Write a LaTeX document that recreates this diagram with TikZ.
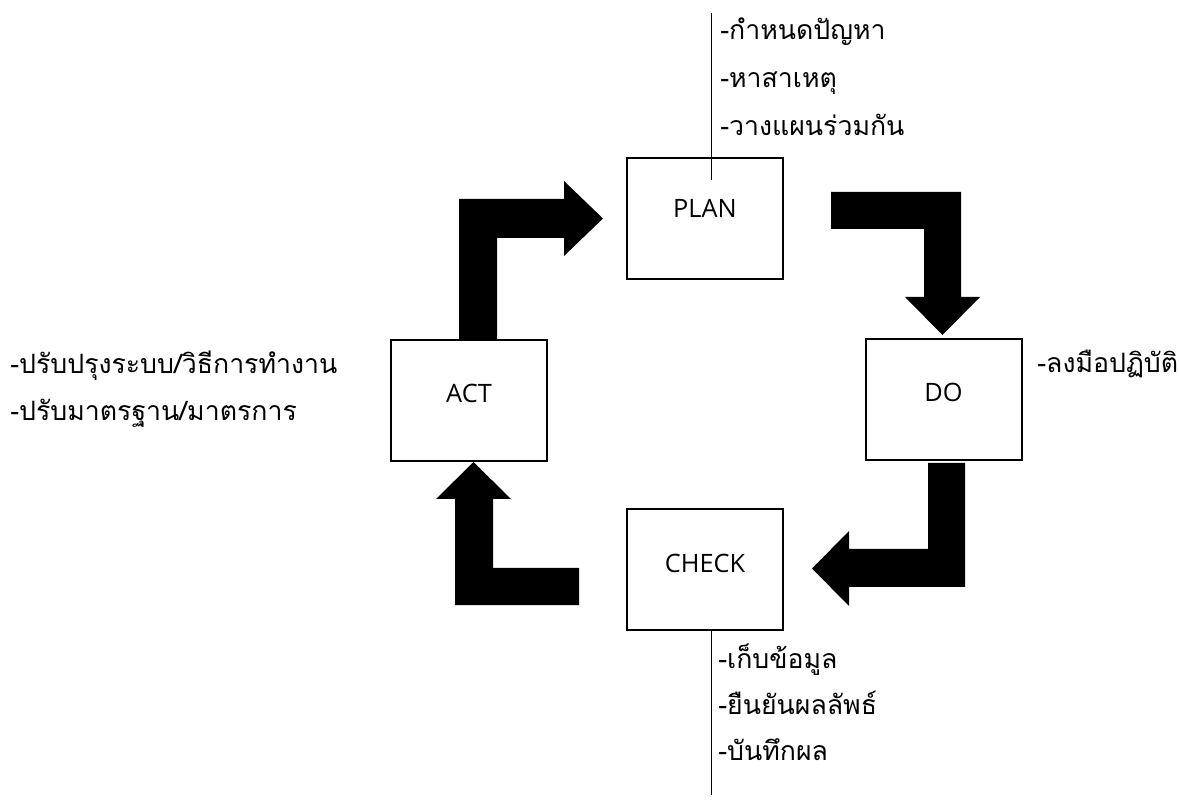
\documentclass[tikz,border=0pt]{standalone}
\usepackage{fontspec}
\newfontfamily\thaifont[Script=Thai]{Loma}
\newfontfamily\latfont{Open Sans}
\begin{document}
\begin{tikzpicture}[x=0.75pt,y=-0.75pt,
  box/.style={draw,line width=1.5pt,minimum width=117pt,minimum height=90.75pt,inner sep=0pt},
  boxlabel/.style={anchor=base,inner sep=0pt,font=\latfont\fontsize{19}{22}\selectfont},
  note/.style={anchor=base west,inner sep=0pt,font=\thaifont\fontsize{20}{24}\selectfont},
  blockarrow/.style={fill=black,draw=none},
  thinline/.style={line width=0.75pt}]
\useasboundingbox (0,0) rectangle (1179,805);
% boxes
\node[box] (plan) at (705,219) {};
\node[box] (do) at (943.5,399.5) {};
\node[box] (check) at (705,569.5) {};
\node[box] (act) at (469,400.5) {};
\node[boxlabel] (planl) at (705,218) {PLAN};
\node[boxlabel] (dol) at (943.5,402) {DO};
\node[boxlabel] (checkl) at (705,572) {CHECK};
\node[boxlabel] (actl) at (469,403) {ACT};
% block arrows
\fill[blockarrow] (459,340) -- (459,199) -- (564,199) -- (564,181) -- (603,218.5) -- (564,256) -- (564,238) -- (497,238) -- (497,340) -- cycle;
\fill[blockarrow] (831,192) -- (961,192) -- (961,297) -- (980,297) -- (942.5,335) -- (905,297) -- (924,297) -- (924,229) -- (831,229) -- cycle;
\fill[blockarrow] (928,463) -- (965,463) -- (965,587) -- (849,587) -- (849,606) -- (812,568.5) -- (849,531) -- (849,549) -- (928,549) -- cycle;
\fill[blockarrow] (579,568) -- (579,605) -- (455,605) -- (455,499) -- (436,499) -- (473.5,462) -- (511,499) -- (493,499) -- (493,568) -- cycle;
% thin lines
\coordinate (ptop) at (711,13);
\coordinate (pend) at (711,180);
\coordinate (cbot) at (711,795);
\draw[thinline] (ptop) -- (pend);
\draw[thinline] (check.south -| cbot) -- (cbot);
% notes
\node[note] (p1) at (720,40) {-กำหนดปัญหา};
\node[note] (p2) at (720,88) {-หาสาเหตุ};
\node[note] (p3) at (720,136) {-วางแผนร่วมกัน};
\node[note] (d1) at (1037,373) {-ลงมือปฏิบัติ};
\node[note] (a1) at (10,374) {-ปรับปรุงระบบ/วิธีการทำงาน};
\node[note] (a2) at (10,421) {-ปรับมาตรฐาน/มาตรการ};
\node[note] (c1) at (718,668) {-เก็บข้อมูล};
\node[note] (c2) at (718,714) {-ยืนยันผลลัพธ์};
\node[note] (c3) at (718,760) {-บันทึกผล};
\end{tikzpicture}
\end{document}
